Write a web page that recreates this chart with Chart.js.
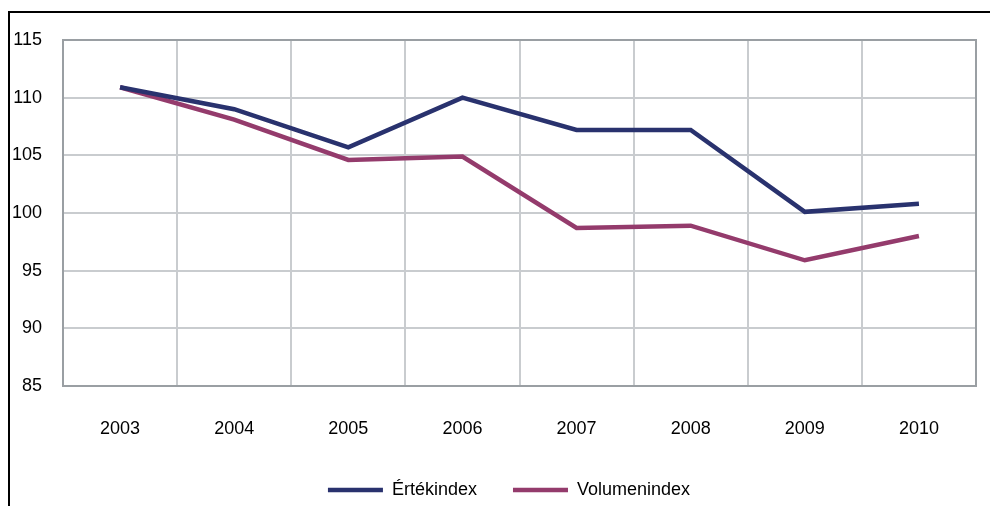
<!DOCTYPE html>
<html>
<head>
<meta charset="utf-8">
<script src="https://cdn.jsdelivr.net/npm/chart.js@4.4.0/dist/chart.umd.min.js"></script>
<style>
  html, body { margin: 0; padding: 0; background: #fff; }
  #wrap { width: 990px; height: 506px; position: relative; }
</style>
</head>
<body>
<div id="wrap"><canvas id="indexChart"></canvas></div>
<script>
// ===== DATA =====
const years = ['2003', '2004', '2005', '2006', '2007', '2008', '2009', '2010'];
const ertekindex = [110.9, 109.0, 105.7, 110.0, 107.2, 107.2, 100.1, 100.8];
const volumenindex = [110.9, 108.1, 104.6, 104.9, 98.7, 98.9, 95.9, 98.0];
const yTicks = [85, 90, 95, 100, 105, 110, 115];

const FONT = "'Liberation Sans', Arial, sans-serif";
const LEGEND_HEIGHT = 61;
const LEGEND_SHIFT = 21;

// frame around the whole figure + grey border around plot area
const framePlugin = {
  id: 'frame',
  beforeLayout(chart) {
    // keep the legend box a fixed height (padding is also the gap between items)
    const lg = chart.legend;
    if (lg && !lg._fixedFit) {
      const fit = lg.fit;
      lg.fit = function () { fit.call(this); this.height = LEGEND_HEIGHT; };
      lg._fixedFit = true;
    }
  },
  afterLayout(chart) {
    // legend sits a little right of the canvas centre
    const lg = chart.legend;
    if (lg) { lg.left += LEGEND_SHIFT; lg.right += LEGEND_SHIFT; }
  },
  beforeDraw(chart) {
    const ctx = chart.ctx;
    ctx.save();
    ctx.strokeStyle = '#000';
    ctx.lineWidth = 2;
    ctx.beginPath();
    ctx.moveTo(9, chart.height);
    ctx.lineTo(9, 12);
    ctx.lineTo(chart.width, 12);
    ctx.stroke();
    ctx.restore();
  },
  beforeDatasetsDraw(chart) {
    const a = chart.chartArea, ctx = chart.ctx;
    ctx.save();
    ctx.strokeStyle = '#9a9fa3';
    ctx.lineWidth = 2;
    ctx.strokeRect(a.left, a.top, a.right - a.left, a.bottom - a.top);
    ctx.restore();
  }
};

new Chart(document.getElementById('indexChart'), {
  type: 'line',
  data: {
    labels: years,
    datasets: [
      {
        label: 'Értékindex',
        data: ertekindex,
        borderColor: '#29326e',
        backgroundColor: '#29326e',
        borderWidth: 4.5,
        pointRadius: 0,
        tension: 0,
        borderJoinStyle: 'miter'
      },
      {
        label: 'Volumenindex',
        data: volumenindex,
        borderColor: '#943b6c',
        backgroundColor: '#943b6c',
        borderWidth: 4.5,
        pointRadius: 0,
        tension: 0,
        borderJoinStyle: 'miter'
      }
    ]
  },
  options: {
    responsive: true,
    maintainAspectRatio: false,
    animation: false,
    layout: { padding: { left: 0, right: 14, top: 40, bottom: 0 } },
    plugins: {
      tooltip: { enabled: false },
      legend: {
        position: 'bottom',
        labels: {
          usePointStyle: true,
          pointStyle: 'line',
          pointStyleWidth: 55,
          padding: 36,
          color: '#000',
          font: { family: FONT, size: 18 }
        }
      }
    },
    scales: {
      x: {
        offset: true,
        grid: { offset: true, color: '#c9cccf', lineWidth: 2, drawTicks: false },
        border: { display: false },
        ticks: { color: '#000', padding: 32, font: { family: FONT, size: 18 } },
        afterFit: s => { s.height = 59; }
      },
      y: {
        min: 85,
        max: 115,
        afterBuildTicks: s => { s.ticks = yTicks.map(v => ({ value: v })); },
        grid: { color: '#c9cccf', lineWidth: 2, drawTicks: false },
        border: { display: false },
        ticks: { color: '#000', padding: 21, font: { family: FONT, size: 18 } },
        afterFit: s => { s.width = 63; }
      }
    }
  },
  plugins: [framePlugin]
});
</script>
</body>
</html>
